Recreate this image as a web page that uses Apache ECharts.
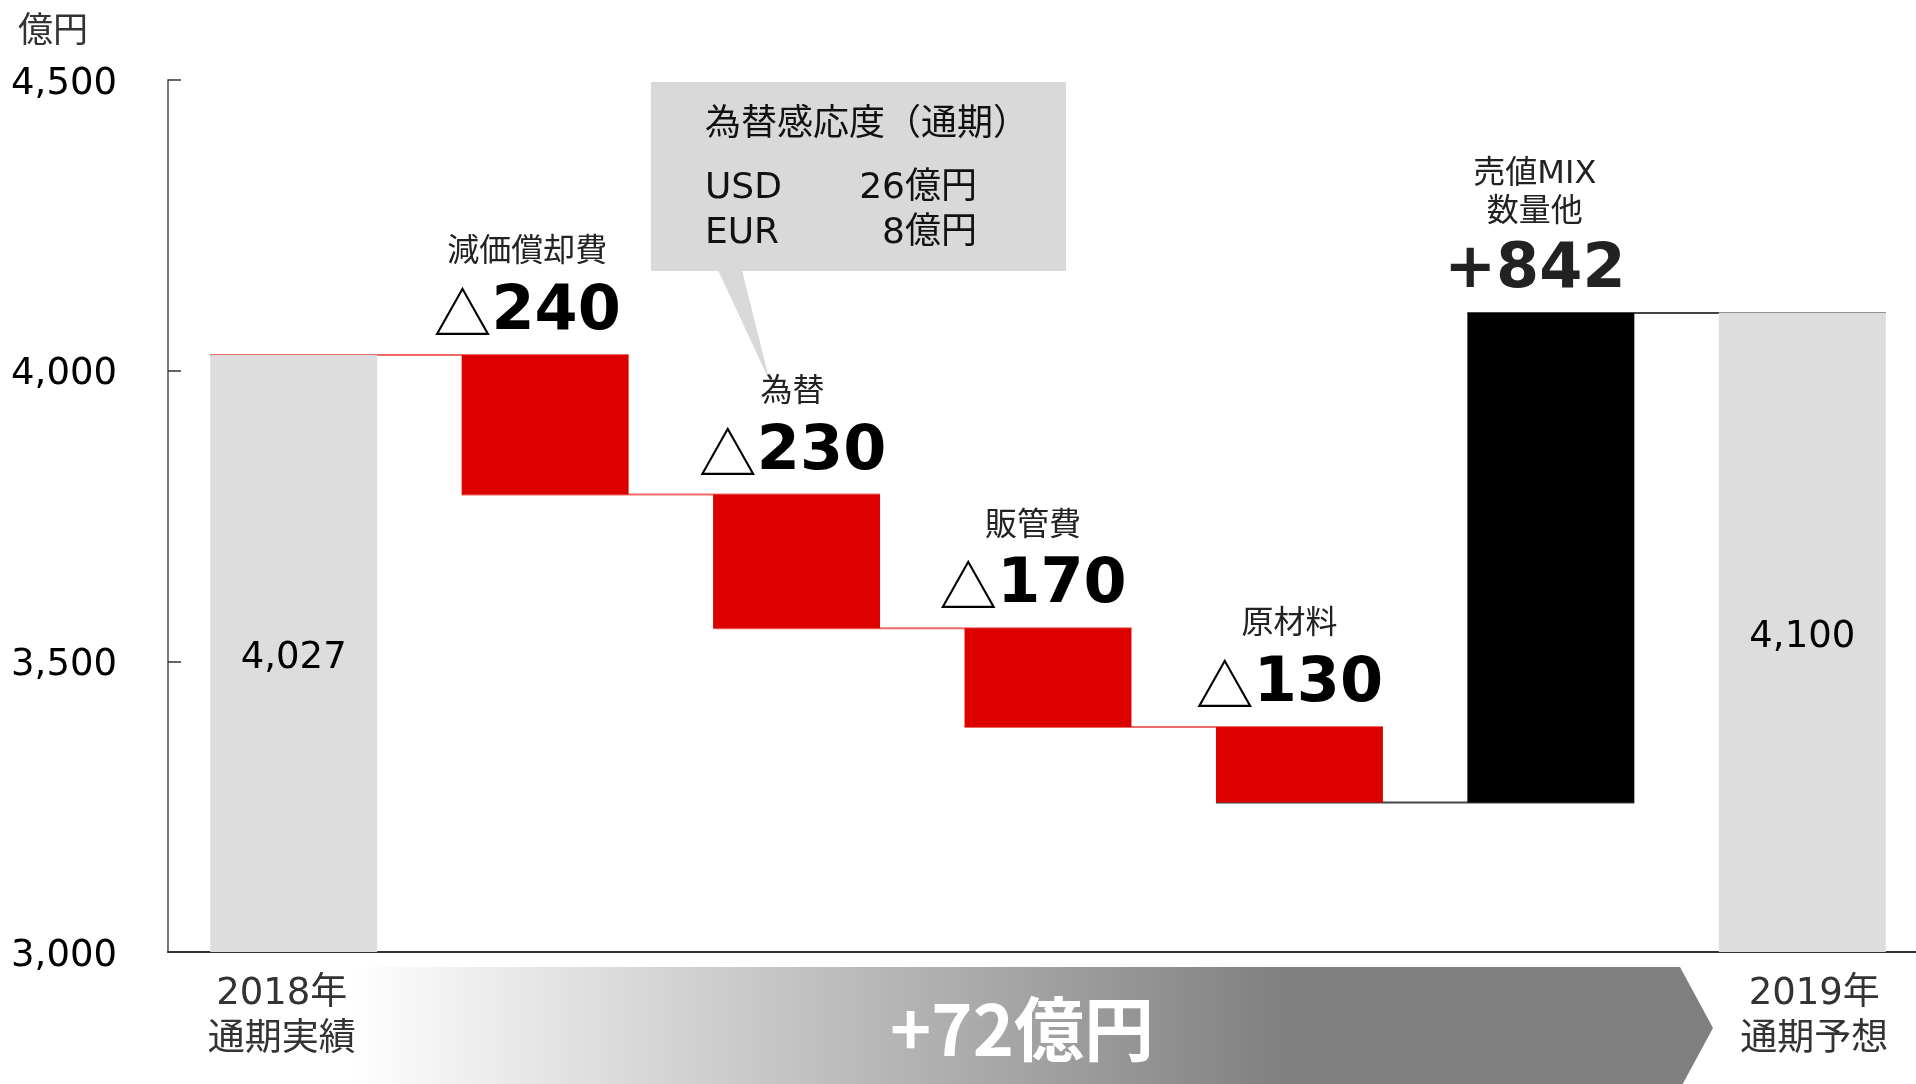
<!DOCTYPE html>
<html><head><meta charset="utf-8">
<script src="https://cdn.jsdelivr.net/npm/echarts@6/dist/echarts.min.js"></script>
<style>html,body{margin:0;padding:0;background:#fff}#c{width:1916px;height:1084px}</style>
</head><body><div id="c"></div>
<script>
// ---- data ----
const categories = ['2018年\n通期実績', '減価償却費', '為替', '販管費', '原材料', '売値MIX\n数量他', '2019年\n通期予想'];
const startValue = 4027;
const changes = [-240, -230, -170, -130, 842];
const endValue = 4100;
const yMin = 3000, yMax = 4500, yStep = 500;
const unitLabel = '億円';
const fxTitle = '為替感応度（通期）';
const fxCurrencies = ['USD', 'EUR'];
const fxValues = ['26億円', '8億円'];
const totalChangeLabel = '+72億円';

// ---- styles ----
const LAT = '"DejaVu Sans", "Noto Sans CJK JP", sans-serif';
const JP = '"Noto Sans CJK JP", sans-serif';
const labelShift = [0, -18, -4, -15, -10, -16, 0];

// build rows
const rows = [];
rows.push([0, startValue, NaN, 0]);
let level = startValue;
const levels = [startValue];
changes.forEach((c, k) => {
  const nl = level + c;
  rows.push([k + 1, Math.max(level, nl), Math.min(level, nl), c]);
  level = nl;
  levels.push(nl);
});
rows.push([categories.length - 1, endValue, NaN, 0]);
const connectors = levels.map((lv, k) => [k + 1, lv]);

const fmt = v => v.toLocaleString('en-US');

const chart = echarts.init(document.getElementById('c'));
chart.setOption({
  animation: false,
  backgroundColor: '#fff',
  grid: { left: 168, top: 80, width: 1760, height: 872, containLabel: false, outerBoundsMode: 'none' },
  xAxis: {
    type: 'category', data: categories, boundaryGap: true,
    axisLine: { lineStyle: { color: '#333', width: 2 } },
    axisTick: { inside: true, length: 10, lineStyle: { color: '#999', width: 1.5 } },
    axisLabel: {
      interval: 0, margin: 19, color: '#333',
      formatter: (v, i) => i === 0 ? '{a|' + v + '}' : (i === categories.length - 1 ? '{b|' + v + '}' : ''),
      rich: {
        a: { fontSize: 37, lineHeight: 46, color: '#333', fontFamily: LAT, padding: [0, 24, 0, 0] },
        b: { fontSize: 37, lineHeight: 46, color: '#333', fontFamily: LAT, padding: [0, 0, 0, 24] }
      }
    }
  },
  yAxis: {
    type: 'value', min: yMin, max: yMax, interval: yStep,
    splitLine: { show: false },
    axisLine: { show: true, lineStyle: { color: '#777', width: 2 } },
    axisTick: { show: true, inside: true, length: 13, lineStyle: { color: '#333', width: 1.5 } },
    axisLabel: {
      margin: 51, color: '#000',
      formatter: v => '{y|' + fmt(v) + '}',
      rich: { y: { fontSize: 37, fontFamily: LAT, color: '#000', padding: [8, 0, 0, 0] } }
    }
  },
  graphic: [
    { type: 'text', x: 18, y: 29, style: { text: unitLabel, fontSize: 35, fontFamily: JP, fill: '#333', verticalAlign: 'middle' } },
    { type: 'rect', shape: { x: 651, y: 82, width: 415, height: 189 }, style: { fill: '#d9d9d9' } },
    { type: 'polygon', shape: { points: [[718, 270], [742, 270], [770, 382]] }, style: { fill: '#d9d9d9' } },
    { type: 'text', x: 705, y: 121, style: { text: fxTitle, fontSize: 36, fontFamily: JP, fill: '#111', verticalAlign: 'middle' } },
    { type: 'text', x: 705, y: 189, style: { text: fxCurrencies[0], fontSize: 36, fontFamily: LAT, fill: '#111', verticalAlign: 'middle' } },
    { type: 'text', x: 705, y: 234, style: { text: fxCurrencies[1], fontSize: 36, fontFamily: LAT, fill: '#111', verticalAlign: 'middle' } },
    { type: 'text', x: 977, y: 189, style: { text: fxValues[0], fontSize: 36, fontFamily: LAT, fill: '#111', align: 'right', verticalAlign: 'middle' } },
    { type: 'text', x: 977, y: 234, style: { text: fxValues[1], fontSize: 36, fontFamily: LAT, fill: '#111', align: 'right', verticalAlign: 'middle' } },
    { type: 'polygon', shape: { points: [[350, 967], [1680, 967], [1713, 1028], [1680, 1089], [350, 1089]] },
      style: { fill: new echarts.graphic.LinearGradient(0, 0, 1, 0, [
        { offset: 0, color: '#ffffff' }, { offset: 0.685, color: '#808080' }, { offset: 1, color: '#808080' }]) } },
    { type: 'text', x: 1022, y: 1029, style: { text: totalChangeLabel, fontSize: 70, fontWeight: 'bold', fontFamily: JP, fill: '#fff', align: 'center', verticalAlign: 'middle' } }
  ],
  series: [
    {
      type: 'custom', name: 'connectors', clip: false, z: 1,
      data: connectors,
      encode: { x: 0, y: 1 },
      renderItem: (params, api) => {
        const i = api.value(0), lv = api.value(1);
        const band = api.size([1, 0])[0];
        const bw = band * 0.664;
        const x0 = api.coord([i - 1, lv])[0] - bw / 2;
        const p1 = api.coord([i, lv]);
        const x1 = p1[0] + bw / 2;
        const next = rows[i];
        const color = next[3] < 0 ? '#ee6a6a' : '#444';
        return { type: 'line', shape: { x1: x0, y1: p1[1], x2: x1, y2: p1[1] }, style: { stroke: color, lineWidth: 2 } };
      }
    },
    {
      type: 'custom', name: 'bars', clip: false, z: 2,
      data: rows,
      encode: { x: 0, y: [1, 2] },
      renderItem: (params, api) => {
        const cs = params.coordSys;
        const i = api.value(0), hi = api.value(1), lo = api.value(2), d = api.value(3);
        const band = api.size([1, 0])[0];
        const bw = band * 0.664;
        const pTop = api.coord([i, hi]);
        const cx = pTop[0], yTop = pTop[1];
        const yBot = isNaN(lo) ? cs.y + cs.height : api.coord([i, lo])[1];
        const isTotal = isNaN(lo);
        const fill = isTotal ? '#dddddd' : (d < 0 ? '#dd0000' : '#000000');
        const children = [
          { type: 'rect', shape: { x: cx - bw / 2, y: yTop, width: bw, height: yBot - yTop }, style: { fill: fill } }
        ];
        const lx = cx + labelShift[i];
        if (isTotal) {
          children.push({ type: 'text', x: cx, y: (yTop + yBot) / 2 + 5,
            style: { text: fmt(hi), fontSize: 37, fontFamily: LAT, fill: '#000', align: 'center', verticalAlign: 'middle' } });
        } else {
          const name = categories[i];
          const twoLine = name.indexOf('\n') >= 0;
          children.push({ type: 'text', x: lx, y: twoLine ? yTop - 119 : yTop - 102,
            style: { text: name, fontSize: 32, lineHeight: 38, fontFamily: LAT, fill: '#222', align: 'center', verticalAlign: 'middle' } });
          const valText = d < 0 ? '{t|△}{v|' + Math.abs(d) + '}' : '{v|+' + d + '}';
          children.push({ type: 'text', x: lx, y: yTop - 42,
            style: { text: valText, align: 'center', verticalAlign: 'middle',
              rich: {
                t: { fontSize: 58, fontFamily: JP, fontWeight: 'normal', fill: '#000' },
                v: { fontSize: 62, fontFamily: LAT, fontWeight: 'bold', fill: d < 0 ? '#000' : '#222' }
              } } });
        }
        return { type: 'group', children: children };
      }
    }
  ]
});
</script></body></html>
